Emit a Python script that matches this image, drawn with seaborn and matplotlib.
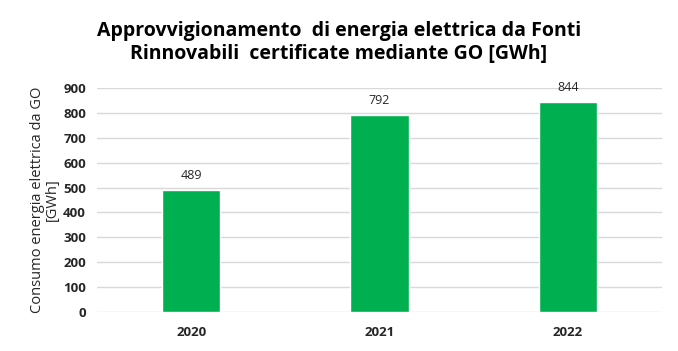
import matplotlib.pyplot as plt
import pandas as pd
import seaborn as sns

years = ["2020", "2021", "2022"]
values = [489, 792, 844]

df = pd.DataFrame({"anno": years, "gwh": values})

sns.set_theme(style="white")
plt.rcParams["font.family"] = ["Open Sans", "DejaVu Sans"]

fig = plt.figure(figsize=(6.78, 3.51), dpi=100)
ax = fig.add_axes([97 / 678, 1 - 312 / 351, 565 / 678, 224 / 351])

sns.barplot(data=df, x="anno", y="gwh", color="#00B050", saturation=1,
            width=0.31, ax=ax)

ax.set_ylim(0, 900)
ax.set_yticks(range(0, 901, 100))
ax.yaxis.grid(True, color="#d9d9d9", linewidth=1)
ax.set_axisbelow(True)
for s in ax.spines.values():
    s.set_visible(False)
ax.tick_params(axis="both", length=0, labelsize=9.5, colors="#262626")
ax.tick_params(axis="x", pad=10)
ax.tick_params(axis="y", pad=8)
for lab in ax.get_xticklabels() + ax.get_yticklabels():
    lab.set_fontweight("bold")

ax.set_xlabel("")
ax.set_ylabel("Consumo energia elettrica da GO\n[GWh]", fontsize=10.5,
              color="#262626", linespacing=1.0)
ax.yaxis.set_label_coords(-0.065, 0.5)

for c in ax.containers:
    ax.bar_label(c, labels=[str(v) for v in values], padding=6,
                 fontsize=9, color="#262626")

fig.suptitle("Approvvigionamento  di energia elettrica da Fonti\nRinnovabili  certificate mediante GO [GWh]",
             x=0.5, y=0.94, fontsize=14, fontweight="bold", color="black",
             linespacing=1.2)

fig.savefig("out.png", dpi=100, facecolor="white")
